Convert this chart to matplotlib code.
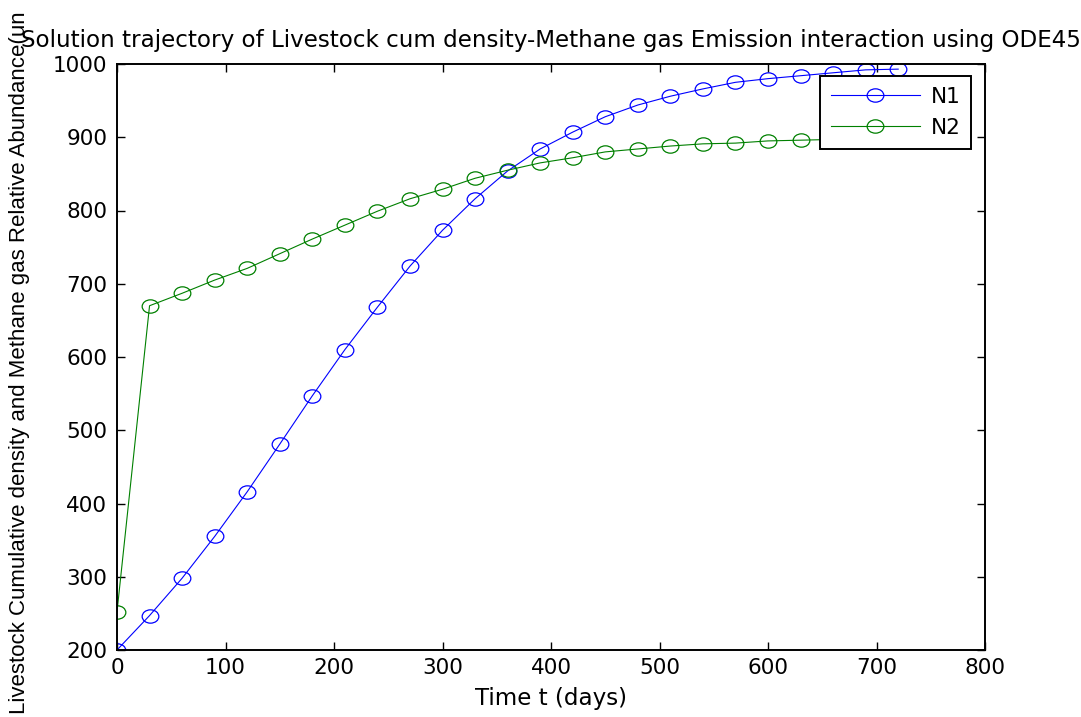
import matplotlib.pyplot as plt
import numpy as np
from matplotlib.path import Path
from matplotlib.transforms import Affine2D

# --- Données ---
t = [0, 30, 60, 90, 120, 150, 180, 210, 240, 270, 300, 330, 360,
     390, 420, 450, 480, 510, 540, 570, 600, 630, 660, 690, 720]
N1 = [200, 247, 298, 355, 416, 481, 547, 610, 668, 724, 773, 816, 854,
      884, 907, 928, 944, 956, 966, 975, 980, 984, 988, 992, 993]
N2 = [252, 670, 687, 705, 721, 741, 761, 780, 799, 816, 829, 844, 855,
      865, 872, 880, 884, 888, 891, 892, 895, 896, 897, 898, 898]

x_ticks = np.arange(0, 801, 100)
y_ticks = np.arange(200, 1001, 100)

plt.rcParams['font.family'] = ['DejaVu Sans']

# marqueur cercle un peu écrasé (image d'origine étirée en largeur)
ellipse = Path.unit_circle().transformed(Affine2D().scale(1.0, 0.8))

fig = plt.figure(figsize=(10.81, 7.17), dpi=100)
W, H = 1081, 717
ax = fig.add_axes([117 / W, 1 - 650 / H, (985 - 117) / W, (650 - 64) / H])

style = dict(lw=0.8, ms=12, mfc='none', mew=0.9, marker=ellipse)
ax.plot(t, N1, '-', color=(0, 0, 1), label='N1', **style)
ax.plot(t, N2, '-', color=(0, 0.5, 0), label='N2', **style)

ax.set_xlim(0, 800)
ax.set_ylim(200, 1000)
ax.set_xticks(x_ticks)
ax.set_yticks(y_ticks)
ax.tick_params(direction='in', top=True, right=True, length=6, width=1.0,
               labelsize=15.5)
ax.tick_params(axis='x', pad=6)
ax.tick_params(axis='y', pad=7)
for s in ax.spines.values():
    s.set_linewidth(1.4)

ax.set_title('Solution trajectory of Livestock cum density-Methane gas Emission interaction using ODE45',
             fontsize=16.6, pad=12)
ax.set_xlabel('Time t (days)', fontsize=16.6, labelpad=6)
fig.text(20 / W, 3 / H,
         'Livestock Cumulative density and Methane gas Relative Abundance(un',
         rotation=90, ha='center', va='bottom', fontsize=16.0,
         family=['Liberation Sans', 'DejaVu Sans'])

leg = ax.legend(loc='upper right', bbox_to_anchor=(0.984, 0.9795), borderaxespad=0,
                fontsize=15.6, fancybox=False, framealpha=1, edgecolor='black',
                handlelength=4.1, handletextpad=0.5, borderpad=0.5, labelspacing=0.5)
leg.get_frame().set_linewidth(1.4)

fig.savefig('out.png', dpi=100)
